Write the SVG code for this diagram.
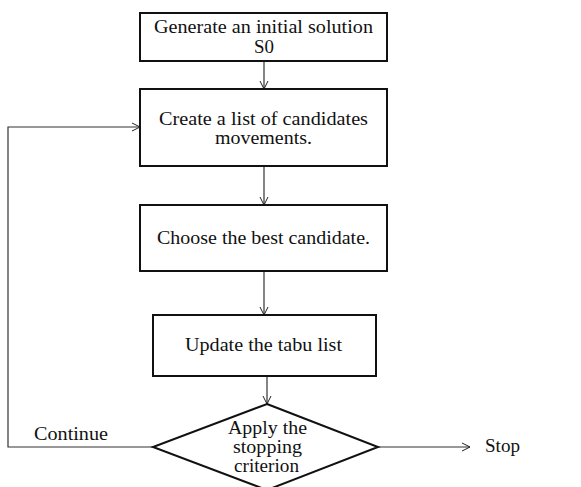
<svg xmlns="http://www.w3.org/2000/svg" width="581" height="487" viewBox="0 0 581 487">
<defs>
<marker id="ah" markerWidth="10" markerHeight="10" refX="9" refY="5" orient="auto" markerUnits="userSpaceOnUse">
<path d="M1,1 L9,5 L1,9" fill="none" stroke="#222" stroke-width="1"/>
</marker>
<style>
.box{fill:#fff;stroke:#111;stroke-width:2}
.t{font-family:"Liberation Serif","Times New Roman",serif;font-size:18px;fill:#111;text-anchor:middle}
.l{font-family:"Liberation Serif","Times New Roman",serif;font-size:18px;fill:#111}
.c{fill:none;stroke:#333;stroke-width:1.2;marker-end:url(#ah)}
</style>
</defs>
<rect width="581" height="487" fill="#fff"/>
<g id="connectors">
<path class="c" d="M264,61 V89"/>
<path class="c" d="M264,166 V205"/>
<path class="c" d="M264,271 V315"/>
<path class="c" d="M267,376 V404"/>
<path class="c" d="M153,447 H8 V127 H140"/>
<path class="c" d="M378,447 H470"/>
</g>
<g id="n1">
<rect class="box" x="140" y="13" width="247" height="48"/>
<text class="t" x="263.5" y="33" textLength="219" lengthAdjust="spacingAndGlyphs">Generate an initial solution</text>
<text class="t" x="264" y="53" textLength="20" lengthAdjust="spacingAndGlyphs">S0</text>
</g>
<g id="n2">
<rect class="box" x="140" y="89" width="247" height="77"/>
<text class="t" x="263.5" y="125" textLength="209" lengthAdjust="spacingAndGlyphs">Create a list of candidates</text>
<text class="t" x="263.5" y="144" textLength="97" lengthAdjust="spacingAndGlyphs">movements.</text>
</g>
<g id="n3">
<rect class="box" x="140" y="205" width="247" height="66"/>
<text class="t" x="263.5" y="244" textLength="213" lengthAdjust="spacingAndGlyphs">Choose the best candidate.</text>
</g>
<g id="n4">
<rect class="box" x="153" y="315" width="223" height="61"/>
<text class="t" x="263.5" y="351" textLength="157" lengthAdjust="spacingAndGlyphs">Update the tabu list</text>
</g>
<g id="n5">
<polygon class="box" points="267,404 378,447 267,490 153,447"/>
<text class="t" x="267.5" y="434" textLength="79" lengthAdjust="spacingAndGlyphs">Apply the</text>
<text class="t" x="267.5" y="453" textLength="69" lengthAdjust="spacingAndGlyphs">stopping</text>
<text class="t" x="266.5" y="472" textLength="65" lengthAdjust="spacingAndGlyphs">criterion</text>
</g>
<text class="l" x="34" y="440" textLength="74" lengthAdjust="spacingAndGlyphs">Continue</text>
<text class="l" x="485" y="452" textLength="35" lengthAdjust="spacingAndGlyphs">Stop</text>
</svg>
